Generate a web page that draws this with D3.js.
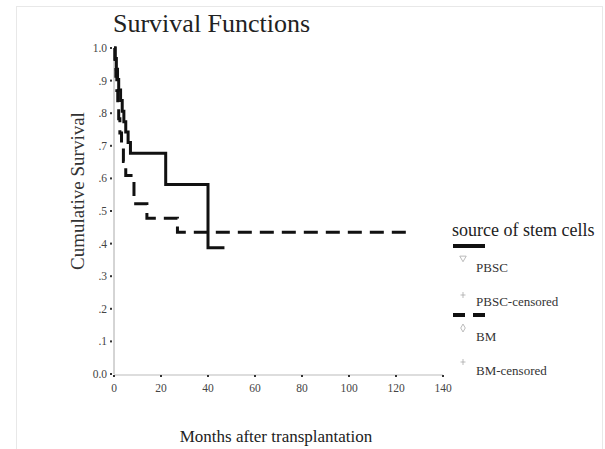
<!DOCTYPE html>
<html>
<head>
<meta charset="utf-8">
<script src="https://cdn.jsdelivr.net/npm/d3@7"></script>
<style>
  body { margin: 0; background: #fff; }
  svg { display: block; font-family: "Liberation Serif", "DejaVu Serif", serif; }
</style>
</head>
<body>
<div id="chart"></div>
<script>
// Kaplan-Meier step data
const pbscTimes = [0, 0.5, 1, 1.5, 2, 2.8, 3.5, 4.2, 5, 6, 7, 22, 40];
const pbscSurv = [1.0, 0.968, 0.935, 0.903, 0.871, 0.839, 0.806, 0.774, 0.742, 0.710, 0.677, 0.581, 0.387];
const pbscEnd = 47;

const bmTimes = [0, 0.4, 0.8, 1.2, 1.6, 2, 2.5, 3.2, 4, 5, 8.5, 14, 27];
const bmSurv = [1.0, 0.957, 0.913, 0.870, 0.826, 0.783, 0.739, 0.696, 0.652, 0.609, 0.522, 0.478, 0.435];
const bmEnd = 125;

const xTicks = [0, 20, 40, 60, 80, 100, 120, 140];
const yTicks = [0, 0.1, 0.2, 0.3, 0.4, 0.5, 0.6, 0.7, 0.8, 0.9, 1.0];
const yTickLabels = ["0.0", ".1", ".2", ".3", ".4", ".5", ".6", ".7", ".8", ".9", "1.0"];

const legendNames = ["PBSC", "PBSC-censored", "BM", "BM-censored"];

const width = 605, height = 449;

const svg = d3.select("#chart").append("svg")
  .attr("width", width)
  .attr("height", height);

// faint frame of the original figure
svg.append("rect")
  .attr("x", 16.5).attr("y", 6.5)
  .attr("width", 586).attr("height", 450)
  .attr("fill", "none")
  .attr("stroke", "#e8e8e8");

const x = d3.scaleLinear().domain([0, 140]).range([114, 443]);
const y = d3.scaleLinear().domain([0, 1]).range([374, 48]);

// title
svg.append("text")
  .attr("x", 113).attr("y", 32)
  .attr("font-size", 26)
  .attr("fill", "#222")
  .text("Survival Functions");

// axes lines
svg.append("line")
  .attr("x1", x(0)).attr("x2", x(0))
  .attr("y1", y(1)).attr("y2", y(0))
  .attr("stroke", "#aaa");
svg.append("line")
  .attr("x1", x(0)).attr("x2", x(140))
  .attr("y1", y(0) + 1).attr("y2", y(0) + 1)
  .attr("stroke", "#bbb");

// y ticks (small dark squares) and labels
svg.selectAll(".ytick")
  .data(yTicks)
  .enter().append("rect")
  .attr("x", x(0) - 4)
  .attr("y", d => y(d) - 1)
  .attr("width", 2).attr("height", 2)
  .attr("fill", "#333");
svg.selectAll(".ylab")
  .data(yTicks)
  .enter().append("text")
  .attr("x", x(0) - 7)
  .attr("y", d => y(d) + 4)
  .attr("text-anchor", "end")
  .attr("font-size", 11.5)
  .attr("fill", "#444")
  .text((d, i) => yTickLabels[i]);

// x ticks and labels
svg.selectAll(".xtick")
  .data(xTicks)
  .enter().append("rect")
  .attr("x", d => x(d) - 1)
  .attr("y", y(0) + 1)
  .attr("width", 2).attr("height", 2)
  .attr("fill", "#333");
svg.selectAll(".xlab")
  .data(xTicks)
  .enter().append("text")
  .attr("x", d => x(d))
  .attr("y", 392)
  .attr("text-anchor", "middle")
  .attr("font-size", 11.5)
  .attr("fill", "#444")
  .text(d => d);

// axis titles
svg.append("text")
  .attr("transform", "translate(84,191) rotate(-90)")
  .attr("text-anchor", "middle")
  .attr("font-size", 19)
  .attr("fill", "#333")
  .text("Cumulative Survival");
svg.append("text")
  .attr("x", 276).attr("y", 442)
  .attr("text-anchor", "middle")
  .attr("font-size", 17)
  .attr("fill", "#222")
  .text("Months after transplantation");

// step curves
function steps(times, surv, end) {
  const pts = times.map((t, i) => [t, surv[i]]);
  pts.push([end, surv[surv.length - 1]]);
  return pts;
}
const line = d3.line()
  .x(d => x(d[0]))
  .y(d => y(d[1]))
  .curve(d3.curveStepAfter);

svg.append("path")
  .datum(steps(bmTimes, bmSurv, bmEnd))
  .attr("d", line)
  .attr("fill", "none")
  .attr("stroke", "#111")
  .attr("stroke-width", 3)
  .attr("stroke-dasharray", "14,8");

svg.append("path")
  .datum(steps(pbscTimes, pbscSurv, pbscEnd))
  .attr("d", line)
  .attr("fill", "none")
  .attr("stroke", "#111")
  .attr("stroke-width", 3);

// legend
const lg = svg.append("g");
lg.append("text")
  .attr("x", 452).attr("y", 236)
  .attr("font-size", 18)
  .attr("fill", "#222")
  .text("source of stem cells");
lg.append("line")
  .attr("x1", 453).attr("x2", 485)
  .attr("y1", 246).attr("y2", 246)
  .attr("stroke", "#111").attr("stroke-width", 4);
lg.append("line")
  .attr("x1", 453).attr("x2", 485)
  .attr("y1", 315).attr("y2", 315)
  .attr("stroke", "#111").attr("stroke-width", 4)
  .attr("stroke-dasharray", "12,8");

const itemY = [272, 306, 341, 375];
const markY = [258, 295, 328, 362];
const markSym = [d3.symbolTriangle, d3.symbolCross, d3.symbolDiamond, d3.symbolCross];

// legend markers: open triangle/diamond, thin plus for censored
lg.selectAll(".lmark")
  .data(legendNames)
  .enter().append("path")
  .attr("transform", (d, i) => "translate(463," + markY[i] + ")" + (i === 0 ? " rotate(180)" : ""))
  .attr("d", (d, i) => i % 2
    ? "M-2.5,0H2.5M0,-3V3"
    : d3.symbol().type(markSym[i]).size(18)())
  .attr("fill", "none")
  .attr("stroke", "#aaa")
  .attr("stroke-width", 0.8);

lg.selectAll(".ltext")
  .data(legendNames)
  .enter().append("text")
  .attr("x", 476)
  .attr("y", (d, i) => itemY[i])
  .attr("font-size", 13)
  .attr("fill", "#333")
  .text(d => d);
</script>
</body>
</html>
